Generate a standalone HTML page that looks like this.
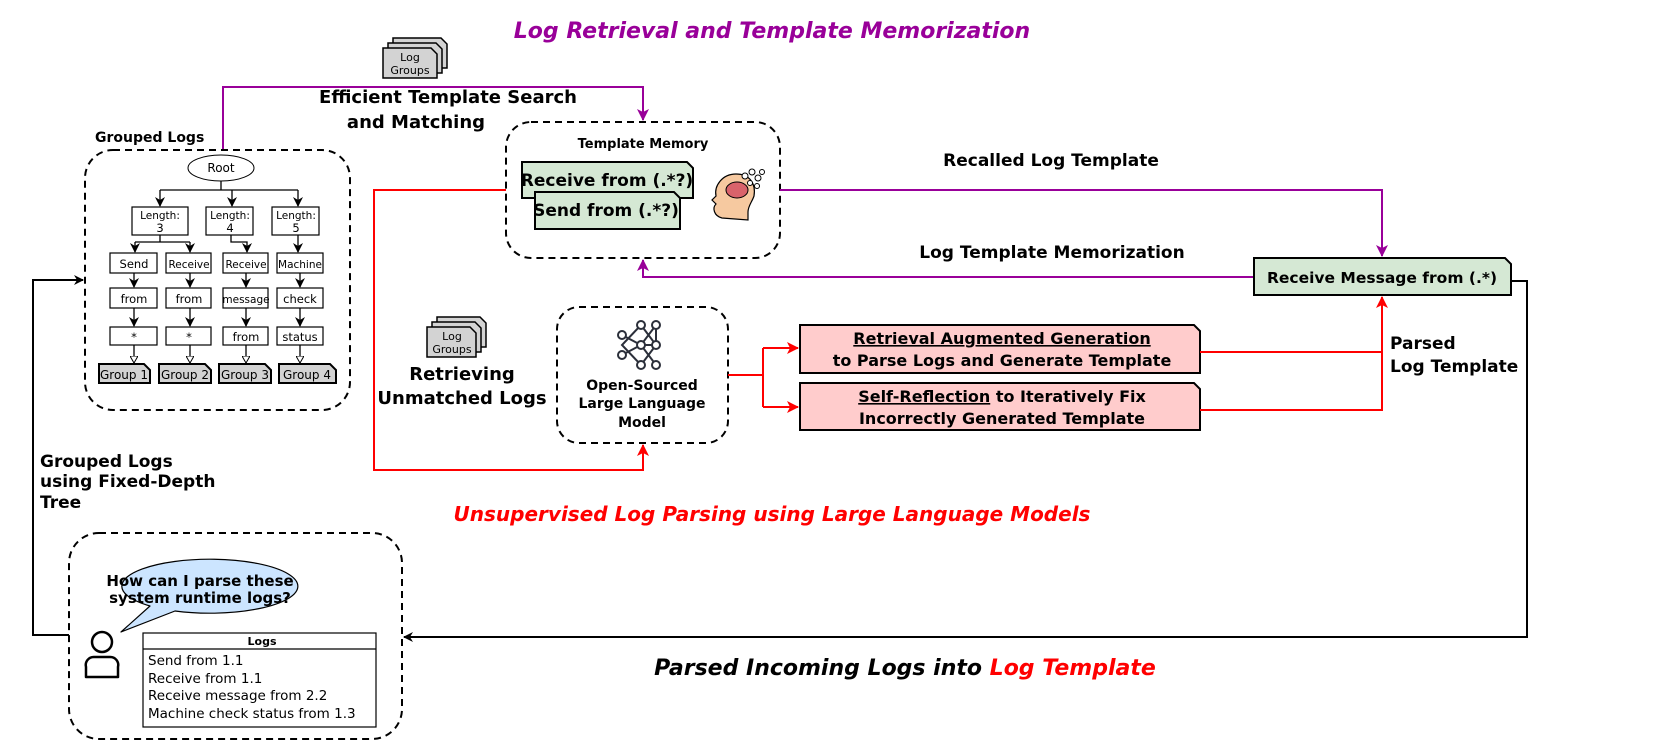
<!DOCTYPE html>
<html><head><meta charset="utf-8"><style>
body{margin:0;background:#fff}
svg{display:block;font-family:"DejaVu Sans","Liberation Sans",sans-serif}
.b{font-weight:bold}
</style></head><body>
<svg width="1661" height="755" viewBox="0 0 1661 755" xmlns="http://www.w3.org/2000/svg">
<defs>
<marker id="ak" markerWidth="10" markerHeight="10" refX="9" refY="5" orient="auto" markerUnits="userSpaceOnUse"><path d="M0,0 L10,5 L0,10 L3,5 Z" fill="#000"/></marker>
<marker id="ap" markerWidth="12" markerHeight="12" refX="11" refY="6" orient="auto" markerUnits="userSpaceOnUse"><path d="M0,0 L12,6 L0,12 L3,6 Z" fill="#990099"/></marker>
<marker id="ar" markerWidth="12" markerHeight="12" refX="11" refY="6" orient="auto" markerUnits="userSpaceOnUse"><path d="M0,0 L12,6 L0,12 L3,6 Z" fill="#f00"/></marker>
<marker id="ah" markerWidth="8" markerHeight="8" refX="7" refY="4" orient="auto" markerUnits="userSpaceOnUse"><path d="M0,0 L7,4 L0,8 Z" fill="#fff" stroke="#000" stroke-width="1"/></marker>
</defs>

<text x="772" y="38" text-anchor="middle" font-size="22" font-style="italic" class="b" fill="#990099">Log Retrieval and Template Memorization</text>

<g stroke="#000" stroke-width="1.5" fill="#d3d3d3">
<path d="M393,38 h48 l6,6 v24 h-54z"/><path d="M388,43 h48 l6,6 v24 h-54z"/><path d="M383,48 h48 l6,6 v24 h-54z"/>
</g>
<text x="410" y="61" text-anchor="middle" font-size="11">Log</text>
<text x="410" y="74" text-anchor="middle" font-size="11">Groups</text>

<path d="M223,150 V87 H643 V120" fill="none" stroke="#990099" stroke-width="2" marker-end="url(#ap)"/>
<text x="448" y="103" text-anchor="middle" font-size="18" class="b">Efficient Template Search</text>
<text x="416" y="128" text-anchor="middle" font-size="18" class="b">and Matching</text>

<text x="95" y="142" font-size="14" class="b">Grouped Logs</text>
<rect x="85" y="150" width="265" height="260" rx="28" fill="none" stroke="#000" stroke-width="2" stroke-dasharray="7,5"/>
<ellipse cx="221" cy="168" rx="33" ry="13" fill="#fff" stroke="#000"/>
<text x="221" y="172" text-anchor="middle" font-size="12">Root</text>
<g stroke="#000" stroke-width="1.3" fill="none">
<path d="M221,181 V190 M160,190 H298"/>
<path d="M160,190 V206" marker-end="url(#ak)"/><path d="M232,190 V206" marker-end="url(#ak)"/><path d="M298,190 V206" marker-end="url(#ak)"/>
<path d="M160,235 V242 H190 M135,242 H190"/>
<path d="M135,242 V252" marker-end="url(#ak)"/><path d="M190,242 V252" marker-end="url(#ak)"/>
<path d="M231,235 V242 H247 V252" marker-end="url(#ak)"/>
<path d="M298,235 V252" marker-end="url(#ak)"/>
<path d="M134,273 V287" marker-end="url(#ak)"/><path d="M190,273 V287" marker-end="url(#ak)"/><path d="M246,273 V287" marker-end="url(#ak)"/><path d="M300,273 V287" marker-end="url(#ak)"/>
<path d="M134,308 V326" marker-end="url(#ak)"/><path d="M190,308 V326" marker-end="url(#ak)"/><path d="M246,308 V326" marker-end="url(#ak)"/><path d="M300,308 V326" marker-end="url(#ak)"/>
<path d="M134,345 V363" marker-end="url(#ah)"/><path d="M190,345 V363" marker-end="url(#ah)"/><path d="M246,345 V363" marker-end="url(#ah)"/><path d="M300,345 V363" marker-end="url(#ah)"/>
</g>
<g fill="#fff" stroke="#000" stroke-width="1.2">
<rect x="132" y="207" width="56" height="28"/><rect x="206" y="207" width="47" height="28"/><rect x="272" y="207" width="47" height="28"/>
<rect x="110" y="253" width="47" height="20"/><rect x="166" y="253" width="45" height="20"/><rect x="223" y="253" width="45" height="20"/><rect x="277" y="253" width="46" height="20"/>
<rect x="110" y="288" width="47" height="20"/><rect x="166" y="288" width="45" height="20"/><rect x="223" y="288" width="45" height="20"/><rect x="277" y="288" width="46" height="20"/>
<rect x="110" y="327" width="47" height="18"/><rect x="166" y="327" width="45" height="18"/><rect x="223" y="327" width="45" height="18"/><rect x="277" y="327" width="46" height="18"/>
</g>
<g font-size="11.5" text-anchor="middle">
<text x="160" y="219" font-size="10.5">Length:</text><text x="160" y="232">3</text>
<text x="230" y="219" font-size="10.5">Length:</text><text x="230" y="232">4</text>
<text x="296" y="219" font-size="10.5">Length:</text><text x="296" y="232">5</text>
<text x="134" y="268">Send</text><text x="189" y="268" font-size="10.5">Receive</text><text x="246" y="268" font-size="10.5">Receive</text><text x="300" y="268" font-size="10.5">Machine</text>
<text x="134" y="303">from</text><text x="189" y="303">from</text><text x="246" y="303" font-size="10.5">message</text><text x="300" y="303">check</text>
<text x="134" y="341">*</text><text x="189" y="341">*</text><text x="246" y="341">from</text><text x="300" y="341">status</text>
</g>
<g fill="#d3d3d3" stroke="#000" stroke-width="2">
<path d="M99,364 h45 l6,6 v13 h-51z"/><path d="M159,364 h46 l6,6 v13 h-52z"/><path d="M219,364 h46 l6,6 v13 h-52z"/><path d="M279,364 h51 l6,6 v13 h-57z"/>
</g>
<g font-size="12" text-anchor="middle">
<text x="124" y="379">Group 1</text><text x="185" y="379">Group 2</text><text x="245" y="379">Group 3</text><text x="307" y="379">Group 4</text>
</g>

<rect x="506" y="122" width="274" height="136" rx="25" fill="none" stroke="#000" stroke-width="2" stroke-dasharray="7,5"/>
<text x="643" y="148" text-anchor="middle" font-size="13" class="b">Template Memory</text>
<path d="M522,162 h165 l6,6 v30 h-171z" fill="#d5e8d4" stroke="#000" stroke-width="2"/>
<text x="607" y="186" text-anchor="middle" font-size="17" class="b">Receive from (.*?)</text>
<path d="M535,192 h139 l6,6 v31 h-145z" fill="#d5e8d4" stroke="#000" stroke-width="2"/>
<text x="606" y="216" text-anchor="middle" font-size="17" class="b">Send from (.*?)</text>
<g>
<path d="M722,218 c-8,-2 -10,-10 -6,-14 l-4,-4 l4,-4 c-2,-10 6,-22 20,-22 c14,0 20,10 18,22 c-2,6 -6,10 -6,16 l0,8 z" fill="#f6c9a0" stroke="#000" stroke-width="1.2"/>
<ellipse cx="737" cy="190" rx="11" ry="8" fill="#d9636b" stroke="#000" stroke-width="1"/>
<g fill="#fff" stroke="#000" stroke-width="1"><circle cx="745" cy="176" r="3"/><circle cx="752" cy="172" r="3"/><circle cx="758" cy="178" r="3"/><circle cx="750" cy="183" r="2.5"/><circle cx="757" cy="186" r="2.5"/><circle cx="762" cy="172" r="2.5"/></g>
</g>

<text x="1051" y="166" text-anchor="middle" font-size="17" class="b">Recalled Log Template</text>
<path d="M780,190 H1382 V256" fill="none" stroke="#990099" stroke-width="2" marker-end="url(#ap)"/>
<text x="1052" y="258" text-anchor="middle" font-size="17" class="b">Log Template Memorization</text>
<path d="M1254,277 H643 V260" fill="none" stroke="#990099" stroke-width="2" marker-end="url(#ap)"/>
<path d="M1254,258 h251 l6,6 v31 h-257z" fill="#d5e8d4" stroke="#000" stroke-width="2"/>
<text x="1382" y="283" text-anchor="middle" font-size="15.5" class="b">Receive Message from (.*)</text>

<path d="M506,190 H374 V470 H643 V445" fill="none" stroke="#f00" stroke-width="2" marker-end="url(#ar)"/>

<g stroke="#000" stroke-width="1.5" fill="#d3d3d3">
<path d="M437,317 h43 l6,6 v24 h-49z"/><path d="M432,322 h43 l6,6 v24 h-49z"/><path d="M427,327 h43 l6,6 v24 h-49z"/>
</g>
<text x="452" y="340" text-anchor="middle" font-size="11">Log</text>
<text x="452" y="353" text-anchor="middle" font-size="11">Groups</text>
<text x="462" y="380" text-anchor="middle" font-size="18" class="b">Retrieving</text>
<text x="462" y="404" text-anchor="middle" font-size="18" class="b">Unmatched Logs</text>

<rect x="557" y="307" width="171" height="136" rx="22" fill="none" stroke="#000" stroke-width="2" stroke-dasharray="7,5"/>
<g stroke="#2b2f3a" stroke-width="2" fill="#fff">
<path d="M622,335 L641,345 L656,325 M622,355 L641,345 L656,365 M641,325 L656,345 L641,365 M641,325 L622,345 L641,365 M656,325 V345 M641,345 H656" fill="none"/>
<circle cx="641" cy="325" r="4"/><circle cx="656" cy="325" r="4"/><circle cx="622" cy="335" r="4"/><circle cx="641" cy="345" r="4"/><circle cx="656" cy="345" r="4"/><circle cx="622" cy="355" r="4"/><circle cx="641" cy="365" r="4"/><circle cx="656" cy="365" r="4"/>
</g>
<text x="642" y="390" text-anchor="middle" font-size="14" class="b">Open-Sourced</text>
<text x="642" y="408" text-anchor="middle" font-size="14" class="b">Large Language</text>
<text x="642" y="427" text-anchor="middle" font-size="14" class="b">Model</text>

<path d="M728,375 H763 M763,348 V407" fill="none" stroke="#f00" stroke-width="2"/>
<path d="M763,348 H798" fill="none" stroke="#f00" stroke-width="2" marker-end="url(#ar)"/>
<path d="M763,407 H798" fill="none" stroke="#f00" stroke-width="2" marker-end="url(#ar)"/>
<path d="M800,325 h394 l6,6 v42 h-400z" fill="#ffcccc" stroke="#000" stroke-width="2"/>
<path d="M800,383 h394 l6,6 v41 h-400z" fill="#ffcccc" stroke="#000" stroke-width="2"/>
<text x="1002" y="344" text-anchor="middle" font-size="16" class="b" text-decoration="underline">Retrieval Augmented Generation</text>
<text x="1002" y="366" text-anchor="middle" font-size="16" class="b">to Parse Logs and Generate Template</text>
<text x="1002" y="402" text-anchor="middle" font-size="16" class="b"><tspan text-decoration="underline">Self-Reflection</tspan> to Iteratively Fix</text>
<text x="1002" y="424" text-anchor="middle" font-size="16" class="b">Incorrectly Generated Template</text>
<path d="M1200,352 H1382 M1200,410 H1382 V297" fill="none" stroke="#f00" stroke-width="2" marker-end="url(#ar)"/>
<text x="1390" y="349" font-size="17" class="b">Parsed</text>
<text x="1390" y="372" font-size="17" class="b">Log Template</text>

<text x="772" y="521" text-anchor="middle" font-size="20" font-style="italic" class="b" fill="#f00">Unsupervised Log Parsing using Large Language Models</text>

<path d="M1511,281 H1527 V637 H404" fill="none" stroke="#000" stroke-width="2" marker-end="url(#ak)"/>
<text x="905" y="675" text-anchor="middle" font-size="22" font-style="italic" class="b">Parsed Incoming Logs into <tspan fill="#f00">Log Template</tspan></text>

<path d="M69,635 H33 V280 H83" fill="none" stroke="#000" stroke-width="2" marker-end="url(#ak)"/>
<text x="40" y="467" font-size="17" class="b">Grouped Logs</text>
<text x="40" y="487" font-size="17" class="b">using Fixed-Depth</text>
<text x="40" y="508" font-size="17" class="b">Tree</text>

<rect x="69" y="533" width="333" height="206" rx="30" fill="none" stroke="#000" stroke-width="2" stroke-dasharray="7,5"/>
<path d="M150,606 A88,27 0 1 1 175,611 L121,632 Z" fill="#cce5ff" stroke="#000" stroke-width="1.2" stroke-linejoin="round"/>
<text x="200" y="586" text-anchor="middle" font-size="15" class="b">How can I parse these</text>
<text x="200" y="603" text-anchor="middle" font-size="15" class="b">system runtime logs?</text>
<circle cx="102" cy="642" r="10" fill="none" stroke="#000" stroke-width="2.5"/>
<path d="M86,677 V667 a8,8 0 0 1 8,-10 h16 a8,8 0 0 1 8,10 V677 Z" fill="none" stroke="#000" stroke-width="2.5" stroke-linejoin="round"/>
<rect x="143" y="633" width="233" height="94" fill="#fff" stroke="#000" stroke-width="1.2"/>
<line x1="143" y1="649" x2="376" y2="649" stroke="#000" stroke-width="1.2"/>
<text x="262" y="645" text-anchor="middle" font-size="11" class="b">Logs</text>
<g font-size="13.5">
<text x="148" y="665">Send from 1.1</text>
<text x="148" y="683">Receive from 1.1</text>
<text x="148" y="700">Receive message from 2.2</text>
<text x="148" y="718">Machine check status from 1.3</text>
</g>
</svg>
</body></html>
